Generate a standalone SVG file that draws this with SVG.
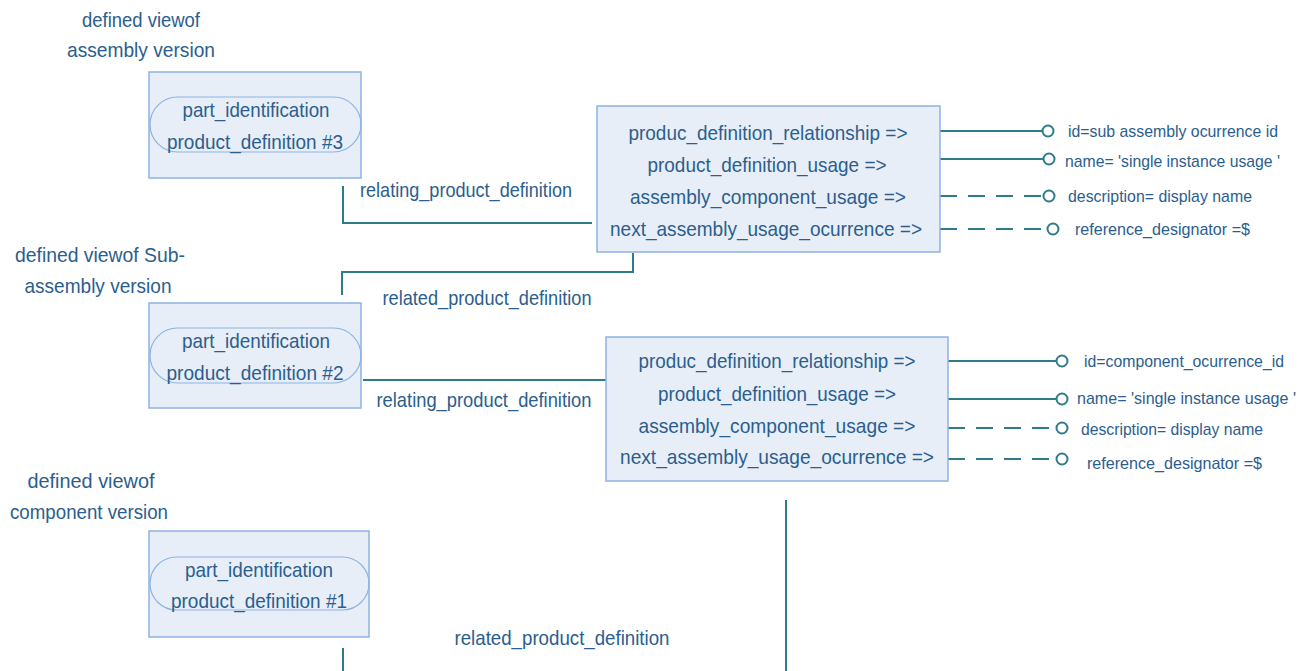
<svg xmlns="http://www.w3.org/2000/svg" width="1310" height="671" viewBox="0 0 1310 671">
<style>
text{font-family:"Liberation Sans",Arial,sans-serif;fill:#2b5e8e;}
.t{font-size:21px;text-anchor:middle;}
.s{font-size:17px;}
.box{fill:#e7eef8;stroke:#8db3e2;stroke-width:1.5;}
.stad{fill:none;stroke:#8db3e2;stroke-width:1.2;}
.c{fill:none;stroke:#2e7b8c;stroke-width:2;}
.d{fill:none;stroke:#2e7b8c;stroke-width:2;stroke-dasharray:17 11;}
.o{fill:#fff;stroke:#2e7b8c;stroke-width:2;}
</style>
<rect width="1310" height="671" fill="#ffffff"/>
<g id="labels">
<text class="t" x="141" y="27" textLength="118" lengthAdjust="spacingAndGlyphs">defined viewof</text>
<text class="t" x="141" y="57" textLength="148" lengthAdjust="spacingAndGlyphs">assembly version</text>
<text class="t" x="100" y="262" textLength="170" lengthAdjust="spacingAndGlyphs">defined viewof Sub-</text>
<text class="t" x="98" y="293" textLength="147" lengthAdjust="spacingAndGlyphs">assembly version</text>
<text class="t" x="91" y="488" textLength="127" lengthAdjust="spacingAndGlyphs">defined viewof</text>
<text class="t" x="89" y="519" textLength="158" lengthAdjust="spacingAndGlyphs">component version</text>
</g>
<g id="connectors">
<path class="c" d="M343 186 V223 H592"/>
<path class="c" d="M633 253 V272 H342 V295"/>
<path class="c" d="M363 380 H606"/>
<path class="c" d="M786 500 V671"/>
<path class="c" d="M343 648 V671"/>
<text class="t" x="466" y="197" textLength="212" lengthAdjust="spacingAndGlyphs">relating_product_definition</text>
<text class="t" x="487" y="305" textLength="209" lengthAdjust="spacingAndGlyphs">related_product_definition</text>
<text class="t" x="484" y="407" textLength="215" lengthAdjust="spacingAndGlyphs">relating_product_definition</text>
<text class="t" x="562" y="645" textLength="215" lengthAdjust="spacingAndGlyphs">related_product_definition</text>
<path class="c" d="M940 131 H1042"/>
<path class="c" d="M940 159 H1043"/>
<path class="d" d="M940 196 H1043"/>
<path class="d" d="M940 229 H1047"/>
<circle class="o" cx="1048" cy="131" r="5.5"/>
<circle class="o" cx="1049" cy="159" r="5.5"/>
<circle class="o" cx="1049" cy="196" r="5.5"/>
<circle class="o" cx="1053" cy="229" r="5.5"/>
<path class="c" d="M948 361 H1056"/>
<path class="c" d="M948 399 H1056"/>
<path class="d" d="M948 428 H1056"/>
<path class="d" d="M948 459 H1056"/>
<circle class="o" cx="1062" cy="361" r="5.5"/>
<circle class="o" cx="1062" cy="399" r="5.5"/>
<circle class="o" cx="1062" cy="428" r="5.5"/>
<circle class="o" cx="1062" cy="459" r="5.5"/>
<text class="s" x="1068" y="137" textLength="210" lengthAdjust="spacingAndGlyphs">id=sub assembly ocurrence id</text>
<text class="s" x="1065" y="167" textLength="215" lengthAdjust="spacingAndGlyphs">name= 'single instance usage '</text>
<text class="s" x="1068" y="202" textLength="184" lengthAdjust="spacingAndGlyphs">description= display name</text>
<text class="s" x="1075" y="235" textLength="175" lengthAdjust="spacingAndGlyphs">reference_designator =$</text>
<text class="s" x="1084" y="367" textLength="200" lengthAdjust="spacingAndGlyphs">id=component_ocurrence_id</text>
<text class="s" x="1077" y="404" textLength="219" lengthAdjust="spacingAndGlyphs">name= 'single instance usage '</text>
<text class="s" x="1081" y="435" textLength="182" lengthAdjust="spacingAndGlyphs">description= display name</text>
<text class="s" x="1087" y="469" textLength="175" lengthAdjust="spacingAndGlyphs">reference_designator =$</text>
</g>
<g id="pd3">
<rect class="box" x="149" y="72" width="212" height="106"/>
<rect class="stad" x="150" y="97" width="211" height="55" rx="27.5"/>
<text class="t" x="256" y="117" textLength="147" lengthAdjust="spacingAndGlyphs">part_identification</text>
<text class="t" x="255" y="149" textLength="176" lengthAdjust="spacingAndGlyphs">product_definition #3</text>
</g>
<g id="pd2">
<rect class="box" x="149" y="303" width="212" height="105"/>
<rect class="stad" x="150" y="328" width="211" height="55" rx="27.5"/>
<text class="t" x="256" y="348" textLength="148" lengthAdjust="spacingAndGlyphs">part_identification</text>
<text class="t" x="255" y="380" textLength="177" lengthAdjust="spacingAndGlyphs">product_definition #2</text>
</g>
<g id="pd1">
<rect class="box" x="149" y="531" width="220" height="106"/>
<rect class="stad" x="150" y="557" width="219" height="53" rx="26.5"/>
<text class="t" x="259" y="577" textLength="148" lengthAdjust="spacingAndGlyphs">part_identification</text>
<text class="t" x="259" y="608" textLength="176" lengthAdjust="spacingAndGlyphs">product_definition #1</text>
</g>
<g id="usage1">
<rect class="box" x="597" y="106" width="343" height="146"/>
<text class="t" x="768" y="140" textLength="279" lengthAdjust="spacingAndGlyphs">produc_definition_relationship =&gt;</text>
<text class="t" x="767" y="172" textLength="239" lengthAdjust="spacingAndGlyphs">product_definition_usage =&gt;</text>
<text class="t" x="768" y="204" textLength="276" lengthAdjust="spacingAndGlyphs">assembly_component_usage =&gt;</text>
<text class="t" x="766" y="236" textLength="312" lengthAdjust="spacingAndGlyphs">next_assembly_usage_ocurrence =&gt;</text>
</g>
<g id="usage2">
<rect class="box" x="606" y="337" width="342" height="144"/>
<text class="t" x="777" y="368" textLength="277" lengthAdjust="spacingAndGlyphs">produc_definition_relationship =&gt;</text>
<text class="t" x="777" y="401" textLength="238" lengthAdjust="spacingAndGlyphs">product_definition_usage =&gt;</text>
<text class="t" x="777" y="433" textLength="277" lengthAdjust="spacingAndGlyphs">assembly_component_usage =&gt;</text>
<text class="t" x="777" y="464" textLength="314" lengthAdjust="spacingAndGlyphs">next_assembly_usage_ocurrence =&gt;</text>
</g>
</svg>
